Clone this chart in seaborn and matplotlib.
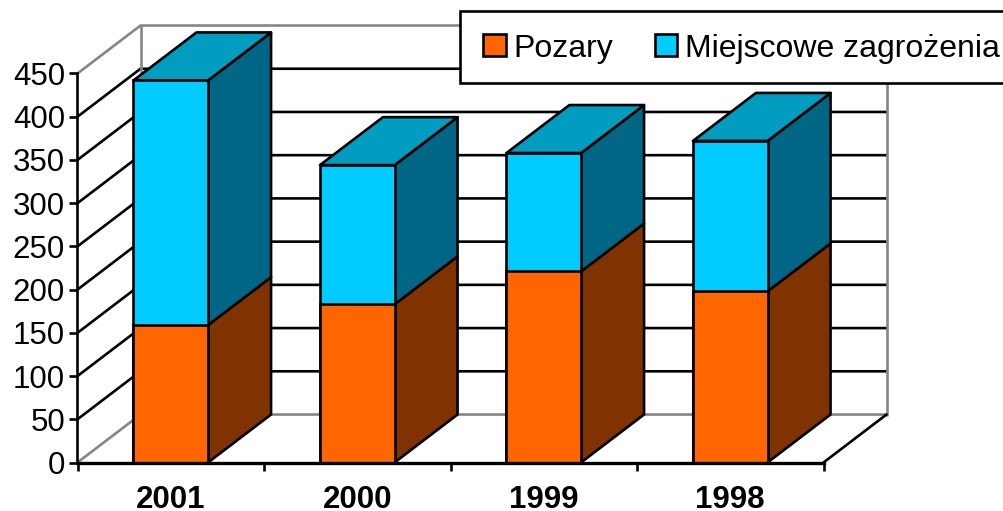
import pandas as pd
import matplotlib.pyplot as plt
import seaborn as sns
from matplotlib.patches import Patch, Rectangle

years = ["2001", "2000", "1999", "1998"]
pozary = [159, 183, 221, 198]
miejscowe = [283, 161, 137, 174]
y_ticks = [0, 50, 100, 150, 200, 250, 300, 350, 400, 450]

ORANGE = "#FF6600"
ORANGE_SIDE = "#803300"
BLUE = "#00CCFF"
BLUE_SIDE = "#006685"
BLUE_TOP = "#009DC0"
GREY = "#868686"

W, H = 1004, 511
BAR_WIDTH = 0.4
LW = 1.9
# depth of the fake 3d box, in data units
DX = 63 / 186.5
DY = 55.5

sns.set_theme(style="white")
plt.rcParams["font.family"] = ["Liberation Sans", "DejaVu Sans"]
plt.rcParams["font.size"] = 22.5

df = pd.DataFrame({"year": years, "pozary": pozary, "miejscowe": miejscowe})
df["total"] = df["pozary"] + df["miejscowe"]

fig = plt.figure(figsize=(W / 100, H / 100), dpi=100)
ax = fig.add_axes([77.5 / W, 1 - 462.5 / H, 746 / W, 389 / H])

# walls and grid
x0, x1 = -0.5, len(years) - 0.5
for v in y_ticks:
    edge = v in (y_ticks[0], y_ticks[-1])
    col = GREY if edge else "black"
    ax.plot([x0, x0 + DX, x1 + DX], [v, v + DY, v + DY], color=col, lw=LW,
            clip_on=False, zorder=1, solid_joinstyle="miter")
for xv in (x0 + DX, x1 + DX):
    ax.plot([xv, xv], [DY, y_ticks[-1] + DY], color=GREY, lw=LW, clip_on=False, zorder=1)
ax.plot([x1, x1 + DX], [0, DY], color="black", lw=LW, clip_on=False, zorder=1)

# front faces
sns.barplot(data=df, x="year", y="total", order=years, color=BLUE, saturation=1,
            width=BAR_WIDTH, edgecolor="black", linewidth=LW, zorder=5, ax=ax)
sns.barplot(data=df, x="year", y="pozary", order=years, color=ORANGE, saturation=1,
            width=BAR_WIDTH, edgecolor="black", linewidth=LW, zorder=6, ax=ax)

# sides and tops
for i, row in df.iterrows():
    right = i + BAR_WIDTH / 2
    left = i - BAR_WIDTH / 2
    for v0, v1, col in [(0, row["pozary"], ORANGE_SIDE), (row["pozary"], row["total"], BLUE_SIDE)]:
        ax.fill([right, right + DX, right + DX, right], [v0, v0 + DY, v1 + DY, v1],
                facecolor=col, edgecolor="black", lw=LW, clip_on=False, zorder=3,
                joinstyle="round")
    t = row["total"]
    ax.fill([left, right, right + DX, left + DX], [t, t, t + DY, t + DY],
            facecolor=BLUE_TOP, edgecolor="black", lw=LW, clip_on=False, zorder=3,
            joinstyle="round")

ax.set_xlim(x0, x1)
ax.set_ylim(y_ticks[0], y_ticks[-1])
ax.set_xlabel("")
ax.set_ylabel("")
ax.set_yticks(y_ticks)
ax.set_xticks([i - 0.5 for i in range(len(years) + 1)], labels=[""] * (len(years) + 1))
ax.set_xticks(range(len(years)), labels=years, minor=True)
for lab in ax.get_xticklabels(minor=True):
    lab.set_fontweight("bold")

ax.tick_params(axis="y", which="major", length=5.5, width=LW, pad=3.5, labelsize=22.5,
               left=True, color="black", labelcolor="black")
ax.tick_params(axis="x", which="major", length=5.5, width=LW, bottom=True, color="black")
ax.tick_params(axis="x", which="minor", length=0, pad=16, labelsize=22.5, labelcolor="black")

sns.despine(ax=ax)
ax.spines["left"].set_color("black")
ax.spines["left"].set_linewidth(LW)
ax.spines["left"].set_zorder(2)
ax.spines["bottom"].set_color("black")
ax.spines["bottom"].set_linewidth(2.4)
ax.spines["bottom"].set_zorder(7)

# legend box runs off the right edge of the canvas
ax.add_patch(Rectangle((460.5 / W, 1 - 83 / H), 600 / W, 72 / H, transform=fig.transFigure,
                       facecolor="white", edgecolor="black", lw=LW, clip_on=False, zorder=9))
handles = [Patch(facecolor=ORANGE, edgecolor="black", lw=LW),
           Patch(facecolor=BLUE, edgecolor="black", lw=LW)]
leg = ax.legend(handles, ["Pozary", "Miejscowe zagrożenia"], ncol=2,
                loc="center left", bbox_to_anchor=(483.5 / W, 1 - 48.5 / H),
                bbox_transform=fig.transFigure, borderaxespad=0, borderpad=0, fontsize=23,
                handlelength=0.7, handleheight=0.7, handletextpad=0.25,
                columnspacing=1.3, frameon=False, labelcolor="black")
leg.set_zorder(10)

fig.savefig("out.png", dpi=100)
